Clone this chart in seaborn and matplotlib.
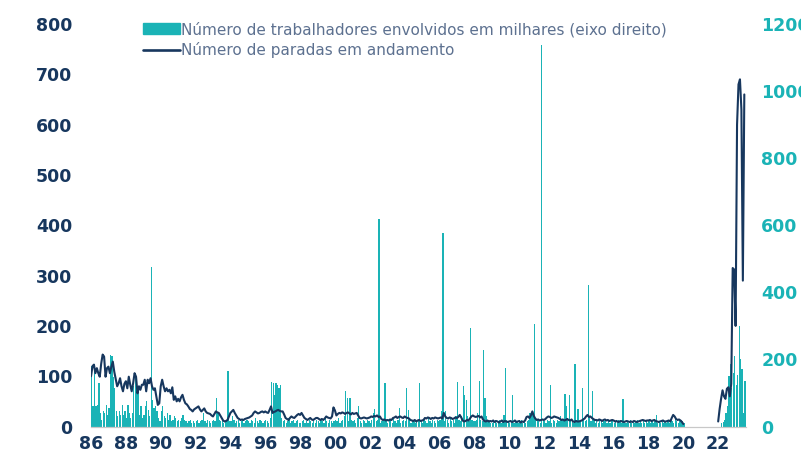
import numpy as np
import pandas as pd
import seaborn as sns
import matplotlib
matplotlib.use("Agg")
import matplotlib.pyplot as plt

# Número de paradas em andamento (eixo esquerdo), mensal, jan/1986 - jan/2020
paradas_1986_1999 = [
    100, 120, 123, 106, 116, 106, 99, 125, 143, 139, 99, 116,   # 86
    119, 106, 119, 129, 109, 95, 80, 86, 96, 80, 70, 85,        # 87
    90, 76, 99, 83, 70, 86, 106, 99, 66, 80, 73, 83,            # 88
    83, 93, 70, 93, 86, 96, 80, 73, 76, 60, 43, 46,             # 89
    80, 93, 80, 70, 76, 70, 73, 66, 78, 53, 60, 50,             # 90
    55, 50, 58, 63, 53, 46, 44, 40, 35, 33, 30, 34,             # 91
    36, 38, 40, 34, 30, 33, 36, 30, 27, 26, 25, 22,             # 92
    20, 25, 30, 28, 27, 22, 17, 12, 10, 11, 13, 20,             # 93
    27, 30, 33, 27, 22, 17, 15, 13, 14, 13, 15, 16,             # 94
    17, 18, 20, 22, 27, 30, 28, 26, 27, 29, 30, 28,             # 95
    30, 28, 27, 33, 40, 27, 29, 30, 32, 33, 31, 30,             # 96
    30, 24, 17, 15, 13, 17, 20, 18, 17, 20, 23, 25,             # 97
    23, 27, 22, 17, 15, 13, 15, 17, 14, 13, 15, 17,             # 98
    17, 15, 13, 15, 13, 16, 20, 18, 17, 16, 20, 38,             # 99
]
paradas_2000_2020 = [
    32, 22, 25, 27, 26, 28, 27, 25, 27, 28, 26, 24,             # 00
    27, 25, 26, 27, 22, 17, 16, 17, 18, 17, 16, 17,             # 01
    18, 20, 19, 21, 20, 22, 19, 20, 15, 13, 14, 12,             # 02
    13, 12, 14, 13, 17, 18, 20, 17, 19, 20, 18, 17,             # 03
    20, 18, 17, 16, 13, 12, 11, 13, 10, 12, 13, 11,             # 04
    12, 13, 17, 16, 18, 17, 15, 17, 16, 18, 17, 16,             # 05
    17, 18, 16, 27, 20, 17, 16, 18, 17, 15, 16, 18,             # 06
    17, 19, 23, 18, 12, 10, 11, 13, 12, 16, 20, 22,             # 07
    20, 19, 20, 21, 18, 20, 14, 11, 10, 12, 10, 11,             # 08
    10, 12, 9, 11, 10, 8, 10, 12, 9, 11, 10, 9,                 # 09
    10, 11, 9, 10, 12, 9, 10, 11, 8, 10, 9, 12,                 # 10
    19, 20, 17, 22, 30, 21, 16, 13, 14, 12, 13, 14,             # 11
    13, 15, 18, 20, 19, 17, 18, 20, 19, 18, 17, 15,             # 12
    13, 14, 12, 13, 15, 13, 12, 14, 10, 9, 11, 10,              # 13
    10, 11, 12, 14, 16, 20, 23, 19, 20, 17, 15, 13,             # 14
    13, 12, 14, 13, 11, 13, 14, 12, 13, 11, 12, 13,             # 15
    12, 10, 11, 9, 10, 11, 10, 9, 10, 11, 10, 9,                # 16
    10, 9, 11, 10, 9, 10, 11, 12, 13, 12, 11, 12,               # 17
    12, 13, 11, 12, 13, 11, 10, 9, 10, 11, 12, 10,              # 18
    10, 11, 12, 10, 17, 23, 20, 15, 13, 14, 12, 9,              # 19
    5,                                                          # 20
]
# jan/2022 - jul/2023
paradas_2022_2023 = [10, 35, 55, 72, 60, 55, 75, 78, 60, 85, 315, 312,
                     200, 600, 680, 690, 630, 290, 660]

# Número de trabalhadores envolvidos, em milhares (eixo direito)
trab_1986_1999 = [
    180, 60, 185, 60, 65, 130, 40, 20, 45, 40, 65, 35,          # 86
    55, 214, 209, 149, 114, 45, 30, 45, 35, 65, 35, 45,         # 87
    25, 65, 40, 25, 40, 120, 150, 145, 110, 35, 60, 25,         # 88
    35, 60, 75, 50, 30, 475, 80, 55, 60, 45, 25, 15,            # 89
    45, 60, 30, 25, 40, 20, 35, 15, 20, 30, 25, 15,             # 90
    20, 15, 25, 35, 20, 15, 10, 15, 20, 10, 15, 10,             # 91
    15, 20, 10, 15, 20, 40, 15, 10, 20, 15, 10, 15,             # 92
    20, 15, 85, 40, 20, 15, 25, 10, 15, 20, 165, 15,            # 93
    15, 30, 20, 10, 15, 20, 10, 15, 20, 10, 15, 20,             # 94
    15, 10, 20, 15, 10, 25, 15, 10, 20, 15, 10, 15,             # 95
    20, 15, 10, 25, 134, 130, 95, 130, 125, 115, 125, 25,       # 96
    15, 20, 10, 15, 25, 10, 15, 20, 10, 15, 20, 10,             # 97
    10, 15, 20, 10, 15, 10, 20, 15, 10, 15, 10, 20,             # 98
    15, 10, 20, 15, 10, 25, 15, 10, 20, 15, 10, 15,             # 99
]
trab_2000_2020 = [
    20, 15, 25, 10, 15, 20, 30, 107, 85, 15, 85, 20,            # 00
    15, 20, 10, 25, 60, 15, 10, 20, 15, 10, 20, 15,             # 01
    10, 20, 40, 52, 15, 20, 620, 10, 15, 20, 130, 15,           # 02
    10, 15, 20, 10, 25, 15, 10, 20, 55, 10, 15, 20,             # 03
    15, 114, 50, 20, 10, 15, 20, 10, 15, 20, 129, 15,           # 04
    10, 20, 15, 10, 25, 15, 10, 20, 15, 10, 20, 15,             # 05
    20, 45, 576, 15, 45, 20, 10, 25, 15, 20, 10, 30,            # 06
    132, 20, 15, 30, 121, 95, 80, 30, 15, 295, 20, 15,          # 07
    15, 20, 40, 135, 20, 15, 227, 85, 30, 20, 15, 10,           # 08
    10, 15, 20, 10, 15, 20, 10, 15, 35, 173, 20, 15,            # 09
    10, 15, 95, 10, 20, 15, 10, 15, 20, 10, 15, 10,             # 10
    15, 20, 40, 30, 40, 307, 25, 20, 15, 10, 1137, 20,          # 11
    15, 10, 20, 15, 125, 10, 20, 15, 10, 20, 15, 30,            # 12
    20, 15, 98, 60, 25, 95, 15, 20, 10, 185, 20, 52,            # 13
    15, 20, 115, 25, 15, 20, 421, 30, 15, 105, 20, 10,          # 14
    15, 10, 20, 15, 10, 15, 20, 10, 15, 10, 20, 15,             # 15
    10, 15, 10, 20, 15, 10, 82, 15, 10, 15, 10, 20,             # 16
    10, 15, 10, 15, 20, 10, 15, 10, 15, 10, 20, 10,             # 17
    15, 10, 15, 10, 20, 35, 10, 15, 10, 15, 10, 15,             # 18
    10, 15, 10, 20, 15, 10, 25, 15, 10, 15, 20, 15,             # 19
    10,                                                         # 20
]
trab_2022_2023 = [0, 0, 10, 12, 20, 40, 60, 150, 185, 115, 160, 210,
                  125, 155, 300, 200, 170, 40, 135]

anos_ticks = list(range(1986, 2023, 2))
rotulos_x = [f"{a % 100:02d}" for a in anos_ticks]

azul = "#17375e"
verde = "#1ab3b6"

# monta a tabela mensal
par1 = paradas_1986_1999 + paradas_2000_2020
trab1 = trab_1986_1999 + trab_2000_2020
df1 = pd.DataFrame({"ano": 1986 + np.arange(len(par1)) / 12,
                    "paradas": par1, "trab": trab1, "trecho": 1})
df2 = pd.DataFrame({"ano": 2022 + np.arange(len(paradas_2022_2023)) / 12,
                    "paradas": paradas_2022_2023, "trab": trab_2022_2023,
                    "trecho": 2})
df = pd.concat([df1, df2], ignore_index=True)

sns.set_style("white")
plt.rcParams["font.family"] = ["DejaVu Sans"]

fig = plt.figure(figsize=(8.01, 4.55), dpi=100)
ax = fig.add_axes([0.113, 0.0626, 0.8184, 0.8846])
ax2 = ax.twinx()

ax2.bar(df["ano"], df["trab"], width=0.85 / 12, color=verde,
        linewidth=0, align="edge")
sns.lineplot(data=df, x="ano", y="paradas", units="trecho", estimator=None,
             color=azul, linewidth=1.5, ax=ax)

ax.set_zorder(ax2.get_zorder() + 1)
ax.patch.set_visible(False)

ax.set_xlim(1985.97, 2023.6)
ax.set_ylim(0, 800)
ax2.set_ylim(0, 1200)
ax.set_yticks(range(0, 801, 100))
ax2.set_yticks(range(0, 1201, 200))
ax.set_xticks(anos_ticks)
ax.set_xticklabels(rotulos_x)
ax.set_xlabel("")
ax.set_ylabel("")

for a in (ax, ax2):
    for s in a.spines.values():
        s.set_visible(False)
ax.spines["bottom"].set_visible(True)
ax.spines["bottom"].set_color("#c8c8c8")
ax.spines["bottom"].set_linewidth(0.9)

ax.tick_params(axis="x", colors="#c4c4c4", length=3, width=0.9, pad=3,
               labelcolor=azul, labelsize=12.5)
ax.tick_params(axis="y", length=0, pad=13, labelcolor=azul, labelsize=12.5)
ax2.tick_params(axis="y", length=0, pad=11, labelcolor=verde, labelsize=12.5)
for lbl in ax.get_xticklabels() + ax.get_yticklabels() + ax2.get_yticklabels():
    lbl.set_fontweight("bold")

h_bar = matplotlib.patches.Patch(color=verde)
h_lin = matplotlib.lines.Line2D([], [], color=azul, linewidth=1.9)
leg = fig.legend([h_bar, h_lin],
                 ["Número de trabalhadores envolvidos em milhares (eixo direito)",
                  "Número de paradas em andamento"],
                 loc="upper left", bbox_to_anchor=(0.171, 0.966),
                 frameon=False, fontsize=11, handlelength=2.4,
                 handletextpad=0.1, labelspacing=0.35, borderaxespad=0)
for t in leg.get_texts():
    t.set_color("#5d7190")

fig.savefig("out.png", dpi=100)
